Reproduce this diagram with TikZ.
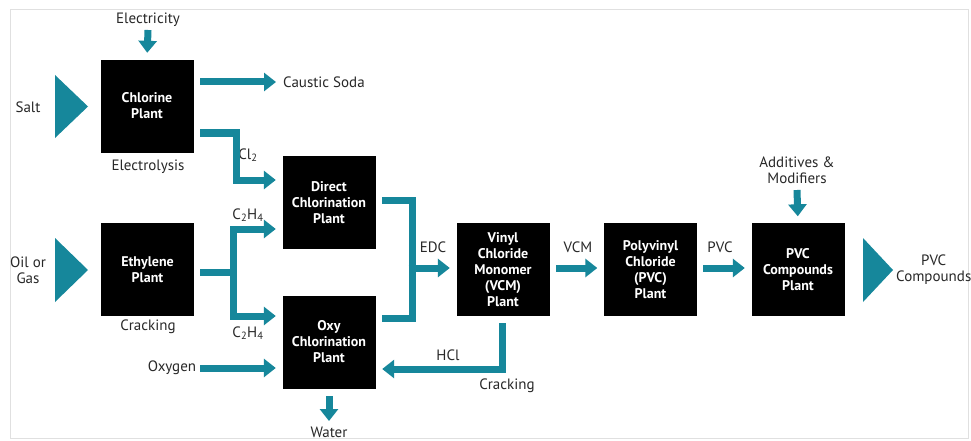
\documentclass[tikz,border=0pt]{standalone}
\usepackage{fontspec}
\setmainfont{PT Sans}
\usetikzlibrary{arrows.meta,calc}
\definecolor{teal}{RGB}{22,135,155}
\definecolor{txt}{RGB}{40,40,40}
\tikzset{
  plant/.style={fill=black, draw=black, minimum width=92pt, minimum height=92pt, inner sep=0pt,
    text=white, align=center, font=\fontsize{14}{16}\selectfont\bfseries},
  lbl/.style={text=txt, align=center, inner sep=0pt, font=\fontsize{15}{16}\selectfont},
  pipe/.style={draw=teal, line width=7pt},
  flow/.style={pipe, -{Triangle[width=18pt,length=12pt]}, shorten >=7pt},
  flowfree/.style={pipe, -{Triangle[width=18pt,length=12pt]}},
  bigtri/.style={fill=teal}
}
\begin{document}
\begin{tikzpicture}[x=1pt,y=-1pt]
\useasboundingbox (0,0) rectangle (971,441);
\fill[white] (0,0) rectangle (971,441);
\draw[black!12, line width=1pt] (10,10) rectangle (968,438);

% plants
\node[plant] (chl) at (147,106) {Chlorine\\Plant};
\node[plant] (eth) at (147.5,269.5) {Ethylene\\Plant};
\node[plant] (dir) at (329,202.5) {Direct\\Chlorination\\Plant};
\node[plant] (oxy) at (329,342) {Oxy\\Chlorination\\Plant};
\node[plant] (vcm) at (503,269.5) {Vinyl\\Chloride\\Monomer\\(VCM)\\Plant};
\node[plant] (pvc) at (650.5,269.5) {Polyvinyl\\Chloride\\(PVC)\\Plant};
\node[plant] (cmp) at (798,269.5) {PVC\\Compounds\\Plant};

% big input/output triangles
\fill[bigtri] (55,75) -- (88,106.5) -- (55,138) -- cycle;
\fill[bigtri] (55,238) -- (88,270) -- (55,302) -- cycle;
\fill[bigtri] (863,238) -- (893,270) -- (863,302) -- cycle;

% labels
\node[lbl] (salt) at (28,107) {Salt};
\node[lbl] (oil) at (28,270) {Oil or\\Gas};
\node[lbl, anchor=west] (pvcc) at (896,270) {PVC\\Compounds};
\node[lbl] (elec) at (148,20) {Electricity};
\node[lbl, anchor=west] (caus) at (283,82) {Caustic Soda};
\node[lbl] (elys) at (148,167) {Electrolysis};
\node[lbl] (crk1) at (148,327) {Cracking};
\node[lbl] (cl2) at (248,155) {Cl\textsubscript{2}};
\node[lbl] (c2a) at (248,215) {C\textsubscript{2}H\textsubscript{4}};
\node[lbl] (c2b) at (248,333) {C\textsubscript{2}H\textsubscript{4}};
\node[lbl] (oxg) at (172,368) {Oxygen};
\node[lbl] (wat) at (329,432) {Water};
\node[lbl] (edc) at (433,247) {EDC};
\node[lbl] (vcml) at (578,247) {VCM};
\node[lbl] (pvcl) at (720,247) {PVC};
\node[lbl] (hcl) at (448,355) {HCl};
\node[lbl] (crk2) at (507,386) {Cracking};
\node[lbl] (add) at (797,170) {Additives \&\\Modifiers};

% coordinates
\coordinate (junE) at (233,272);
\coordinate (junD) at (412,268);

% connectors
\draw[flow] (148,30) -- (chl.north);
\draw[flowfree] (200,82) -- (276,82);
\draw[flow] (200,133) -| (236,180) -- (dir.west |- 0,180);
\draw[pipe] (200,272) -- (junE);
\draw[flow] (junE) |- (dir.west |- 0,229);
\draw[flow] (junE) |- (oxy.west |- 0,316);
\draw[flow] (200,368) -- (oxy.west |- 0,368);
\draw[flowfree] (oxy.south) ++(0,8) -- (329,421);
\draw[pipe] (382,200) -| (junD);
\draw[pipe] (382,318) -| (junD);
\draw[flow] ([xshift=-3.5pt]junD) -- (vcm.west |- junD);
\draw[flow] (502,323) -- (502,369) -- (oxy.east |- 0,369);
\draw[flow] (556,268) -- (pvc.west |- 0,268);
\draw[flow] (703,268) -- (cmp.west |- 0,268);
\draw[flow] (797,190) -- (cmp.north);
\end{tikzpicture}
\end{document}
